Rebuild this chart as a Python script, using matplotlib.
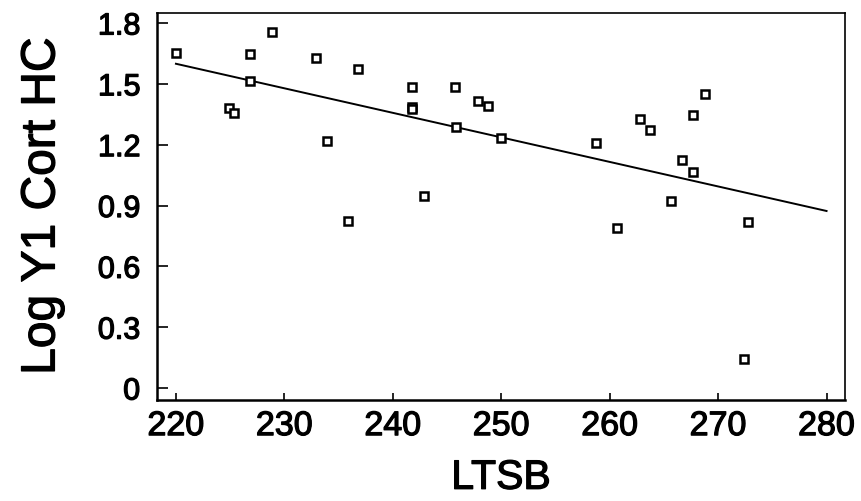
import matplotlib
matplotlib.use("Agg")
import matplotlib.pyplot as plt
import matplotlib.patheffects as pe

# Data
ltsb = [220.0, 226.8, 228.9, 232.9, 236.8, 241.8, 245.7, 247.9, 248.8, 226.8,
        224.9, 225.4, 241.8, 241.8, 245.8, 250.0, 233.9, 242.9, 235.9,
        268.75, 267.7, 262.8, 263.7, 258.7, 266.7, 267.7, 265.7, 260.7, 272.8, 272.4]
log_cort = [1.651, 1.648, 1.754, 1.627, 1.575, 1.485, 1.485, 1.415, 1.390, 1.514,
            1.382, 1.356, 1.385, 1.374, 1.287, 1.232, 1.217, 0.946, 0.822,
            1.452, 1.346, 1.325, 1.274, 1.209, 1.126, 1.066, 0.924, 0.790, 0.819, 0.142]
fit_x = [220, 280]
fit_y = [1.599, 0.873]

xticks = [220, 230, 240, 250, 260, 270, 280]
yticks = [0, 0.3, 0.6, 0.9, 1.2, 1.5, 1.8]
ytick_labels = ["0", "0.3", "0.6", "0.9", "1.2", "1.5", "1.8"]

plt.rcParams['font.family'] = ['Liberation Sans', 'DejaVu Sans']

fig = plt.figure(figsize=(8.61, 5.02), dpi=100)
ax = fig.add_axes([0.1823, 0.2012, 0.9814 - 0.1823, 0.972 - 0.2012])

ax.plot(fit_x, fit_y, color='black', lw=1.4, zorder=2)
ax.plot(ltsb, log_cort, linestyle='none', marker='s', markersize=6.2,
        markerfacecolor='white', markeredgecolor='black', markeredgewidth=1.8, zorder=3)

ax.set_xlim(218.25, 281.7)
ax.set_ylim(-0.059, 1.849)
ax.set_xticks(xticks)
ax.set_xticklabels([str(t) for t in xticks])
ax.set_yticks(yticks)
ax.set_yticklabels(ytick_labels)

ax.tick_params(axis='x', direction='in', length=5, width=1.2, labelsize=24.5, pad=8)
ax.tick_params(axis='y', direction='in', length=8, width=1.2, labelsize=22, pad=12)

for side in ['left', 'bottom']:
    ax.spines[side].set_linewidth(1.8)
for side in ['top', 'right']:
    ax.spines[side].set_linewidth(1.2)

xl = ax.set_xlabel('LTSB', fontsize=29.5, labelpad=12)
yl = ax.set_ylabel('Log Y1 Cort HC', fontsize=34.5, labelpad=24)

thick = [pe.withStroke(linewidth=0.9, foreground='black')]
for t in ax.get_xticklabels() + ax.get_yticklabels() + [xl, yl]:
    t.set_path_effects(thick)

fig.savefig('out.png', dpi=100)
